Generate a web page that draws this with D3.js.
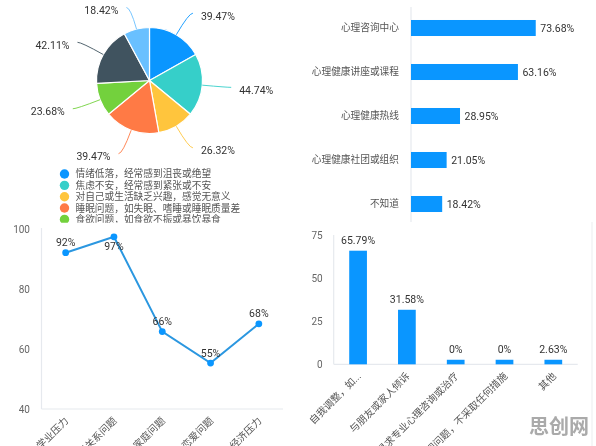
<!DOCTYPE html>
<html>
<head>
<meta charset="utf-8">
<script src="https://cdn.jsdelivr.net/npm/d3@7"></script>
<style>
  body { margin: 0; background: #fff; }
  svg { filter: blur(0.35px); }  /* the source picture is a soft screenshot */
  text { font-family: Roboto, "Noto Sans CJK SC", sans-serif; }
</style>
</head>
<body>
<svg id="chart" width="596" height="446"></svg>
<script>
// pie
var pie_names = ["情绪低落，经常感到沮丧或绝望", "焦虑不安，经常感到紧张或不安", "对自己或生活缺乏兴趣，感觉无意义", "睡眠问题，如失眠、嗜睡或睡眠质量差", "食欲问题，如食欲不振或暴饮暴食"];
var pie_values = [39.47, 44.74, 26.32, 39.47, 23.68, 42.11, 18.42];
var pie_colors = ["#0a96ff", "#36cfc9", "#ffc53d", "#ff7a45", "#73d13d", "#40535f", "#69c0ff"];
// horizontal bars
var hbar_names = ["心理咨询中心", "心理健康讲座或课程", "心理健康热线", "心理健康社团或组织", "不知道"];
var hbar_values = [73.68, 63.16, 28.95, 21.05, 18.42];
// line
var line_names = ["学业压力", "人际关系问题", "家庭问题", "恋爱问题", "经济压力"];
var line_values = [92.1, 97.4, 65.8, 55.3, 68.4];
var line_labels = ["92%", "97%", "66%", "55%", "68%"];
var line_ticks = [40, 60, 80, 100];
// vertical bars
var vbar_names = ["自我调整，如...", "与朋友或家人倾诉", "寻求专业心理咨询或治疗", "忽视问题，不采取任何措施", "其他"];
var vbar_values = [65.79, 31.58, 2.63, 2.63, 2.63];
var vbar_labels = ["65.79%", "31.58%", "0%", "0%", "2.63%"];
var vbar_ticks = [0, 25, 50, 75];

var BLUE = "#0a96ff";
var AXIS = "#e6e9ee";
var svg = d3.select("#chart");

function axisLine(x1, y1, x2, y2) {
  svg.append("line")
    .attr("x1", x1).attr("y1", y1).attr("x2", x2).attr("y2", y2)
    .attr("stroke", AXIS).attr("stroke-width", 1.2);
}

function cleanAxis(g, size, color) {
  g.select(".domain").remove();
  g.selectAll("text").attr("font-size", size).attr("fill", color);
}

function drawPie() {
  var cx = 149.5, cy = 80.5, r = 53, line_r = 78;
  var g = svg.append("g").attr("transform", "translate(" + cx + "," + cy + ")");
  var arcs = d3.pie().sort(null)(pie_values);
  var arc = d3.arc().innerRadius(0).outerRadius(r);

  g.selectAll("path.slice").data(arcs).enter().append("path")
    .attr("class", "slice")
    .attr("d", arc)
    .attr("fill", function(d, i) { return pie_colors[i]; })
    .attr("stroke", "#fff")
    .attr("stroke-width", 1.2);

  arcs.forEach(function(d, i) {
    var mid = (d.startAngle + d.endAngle) / 2;
    var sx = Math.sin(mid), cy2 = -Math.cos(mid);
    var side = sx >= 0 ? 1 : -1;
    var ctrl_x = line_r * sx;
    var ctrl_y = Math.max(line_r * cy2, 7.5 - cy);  // keep the top label inside the page
    var p = d3.path();
    p.moveTo(r * sx, r * cy2);
    p.quadraticCurveTo(ctrl_x, ctrl_y, ctrl_x + side * 4, ctrl_y);
    g.append("path")
      .attr("d", p.toString())
      .attr("fill", "none")
      .attr("stroke", pie_colors[i])
      .attr("stroke-width", 0.9);
    g.append("text")
      .attr("x", ctrl_x + side * 12)
      .attr("y", ctrl_y + 3)
      .attr("dy", "0.35em")
      .attr("text-anchor", side > 0 ? "start" : "end")
      .attr("font-size", 10.5)
      .attr("fill", "#333")
      .text(d.value.toFixed(2) + "%");
  });

  // legend runs into the line chart, so it gets cut off
  svg.append("clipPath").attr("id", "legend-clip")
    .append("rect").attr("x", 0).attr("y", 165).attr("width", 290).attr("height", 57.8);
  var legend = svg.append("g").attr("clip-path", "url(#legend-clip)");
  var legend_y = d3.scalePoint().domain(d3.range(pie_names.length)).range([174, 219.4]);
  pie_names.forEach(function(name, i) {
    legend.append("circle")
      .attr("cx", 64.5).attr("cy", legend_y(i)).attr("r", 4.7)
      .attr("fill", pie_colors[i]);
    legend.append("text")
      .attr("x", 75.5).attr("y", legend_y(i))
      .attr("dy", "0.36em")
      .attr("font-size", 9.7)
      .attr("fill", "#555")
      .text(name);
  });
}

function drawHbar() {
  var x = d3.scaleLinear().domain([0, 100]).range([411, 580.3]);
  var y = d3.scaleBand().domain(hbar_names).range([6, 226]).paddingInner(0.636).paddingOuter(0.318);
  svg.append("g")
    .attr("transform", "translate(399,0)")
    .call(d3.axisLeft(y).tickSize(0).tickPadding(0))
    .call(cleanAxis, 9.7, "#555");
  axisLine(411, 7, 411, 222);
  hbar_values.forEach(function(v, i) {
    svg.append("rect")
      .attr("x", x(0)).attr("y", y(hbar_names[i]))
      .attr("width", x(v) - x(0)).attr("height", y.bandwidth())
      .attr("fill", BLUE);
    svg.append("text")
      .attr("x", x(v) + 4.5).attr("y", y(hbar_names[i]) + y.bandwidth() / 2)
      .attr("dy", "0.35em")
      .attr("font-size", 10.5)
      .attr("fill", "#333")
      .text(v.toFixed(2) + "%");
  });
}

function slantLabels(g) {
  g.selectAll("text")
    .attr("text-anchor", "end")
    .attr("x", 0).attr("y", 0).attr("dy", "0.35em")
    .attr("transform", "translate(1,10) rotate(-45)");
}

function drawLine() {
  var x = d3.scaleBand().domain(line_names).range([41.5, 283]);
  var y = d3.scaleLinear().domain([40, 100]).range([409, 229]);
  var mid = function(i) { return x(line_names[i]) + x.bandwidth() / 2; };
  svg.append("g")
    .attr("transform", "translate(30,0)")
    .call(d3.axisLeft(y).tickValues(line_ticks).tickSize(0).tickPadding(0))
    .call(cleanAxis, 10, "#666");
  svg.append("g")
    .attr("transform", "translate(0,409)")
    .call(d3.axisBottom(x).tickSize(0))
    .call(cleanAxis, 10, "#555")
    .call(slantLabels);
  axisLine(41.5, 228, 41.5, 409);
  axisLine(41.5, 409, 283, 409);

  var path = d3.line()
    .x(function(d, i) { return mid(i); })
    .y(function(d) { return y(d); });
  svg.append("path")
    .attr("d", path(line_values))
    .attr("fill", "none")
    .attr("stroke", "#2b97e0")
    .attr("stroke-width", 2);
  line_values.forEach(function(v, i) {
    svg.append("circle")
      .attr("cx", mid(i)).attr("cy", y(v)).attr("r", 3.4)
      .attr("fill", BLUE);
    svg.append("text")
      .attr("x", mid(i))
      .attr("y", y(v) + (i == 1 ? 10 : -10))  // 2nd label sits under its point
      .attr("dy", "0.35em")
      .attr("text-anchor", "middle")
      .attr("font-size", 10.5)
      .attr("fill", "#333")
      .text(line_labels[i]);
  });
}

function drawVbar() {
  var x = d3.scaleBand().domain(vbar_names).range([333.7, 577.7]).paddingInner(0.637).paddingOuter(0.318);
  var y = d3.scaleLinear().domain([0, 75]).range([364.3, 234.8]);
  svg.append("g")
    .attr("transform", "translate(322.7,0)")
    .call(d3.axisLeft(y).tickValues(vbar_ticks).tickSize(0).tickPadding(0))
    .call(cleanAxis, 10, "#666");
  svg.append("g")
    .attr("transform", "translate(0,364.3)")
    .call(d3.axisBottom(x).tickSize(0))
    .call(cleanAxis, 10, "#555")
    .call(slantLabels);
  axisLine(333.7, 235, 333.7, 364.3);
  axisLine(333.7, 364.3, 577.7, 364.3);
  vbar_values.forEach(function(v, i) {
    svg.append("rect")
      .attr("x", x(vbar_names[i])).attr("y", y(v))
      .attr("width", x.bandwidth()).attr("height", y(0) - y(v))
      .attr("fill", BLUE);
    svg.append("text")
      .attr("x", x(vbar_names[i]) + x.bandwidth() / 2).attr("y", y(v) - 10)
      .attr("dy", "0.35em")
      .attr("text-anchor", "middle")
      .attr("font-size", 10.5)
      .attr("fill", "#333")
      .text(vbar_labels[i]);
  });
}

drawPie();
drawHbar();
drawLine();
drawVbar();

// faint panel edge and watermark
svg.append("line")
  .attr("x1", 592).attr("y1", 222).attr("x2", 592).attr("y2", 446)
  .attr("stroke", "#f2f3f5").attr("stroke-width", 1.5);
svg.append("text")
  .attr("x", 559).attr("y", 427)
  .attr("dy", "0.36em")
  .attr("text-anchor", "middle")
  .attr("font-size", 20)
  .attr("font-weight", "bold")
  .attr("fill", "#aaa")
  .text("思创网");
</script>
</body>
</html>
